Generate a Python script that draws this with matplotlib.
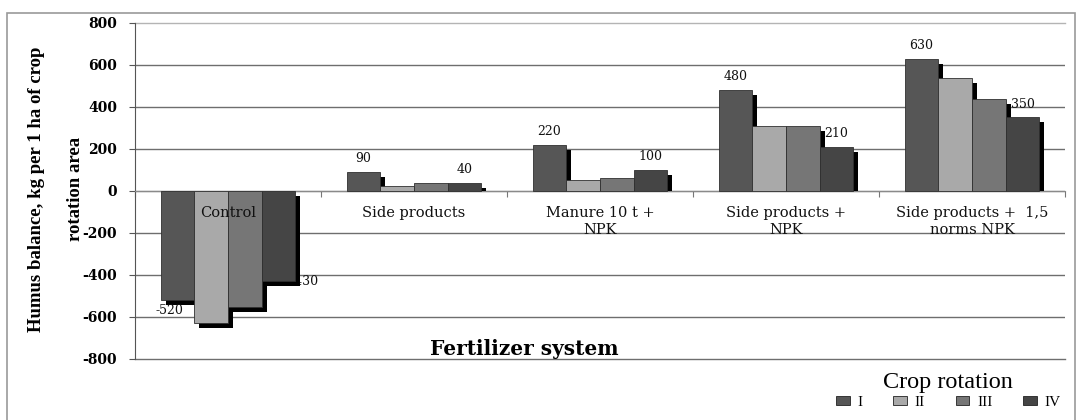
import matplotlib
matplotlib.use("Agg")

import matplotlib.pyplot as plt
from matplotlib.patches import Patch, Rectangle
import numpy as np


categories = [
    "Control",
    "Side products",
    "Manure 10 t +\nNPK",
    "Side products +\nNPK",
    "Side products +  1,5\nnorms NPK",
]
series_names = ["I", "II", "III", "IV"]
values_I = [-520, 90, 220, 480, 630]
values_II = [-630, 25, 50, 310, 540]
values_III = [-550, 40, 60, 310, 440]
values_IV = [-430, 40, 100, 210, 350]
y_ticks = [-800, -600, -400, -200, 0, 200, 400, 600, 800]

COLORS = ["#565656", "#a9a9a9", "#767676", "#454545"]
SERIF = "DejaVu Serif"

W, H = 1081, 420
fig = plt.figure(figsize=(W / 100, H / 100), dpi=100)
ax = fig.add_axes([135 / W, 1 - 359 / H, 930 / W, 336 / H])

x = np.arange(len(categories))
width = 0.181
# drop shadow offset, in data units (about 5 px right and 5 px down)
sdx = 5 / 186
sdy = 5 / 42 * 200

all_series = [values_I, values_II, values_III, values_IV]
for i, vals in enumerate(all_series):
    vals = np.array(vals, dtype=float)
    xpos = x + (i - 1.5) * width
    top = np.where(vals >= 0, np.maximum(vals - sdy, 0), vals - sdy)
    bottom = np.where(vals >= 0, 0, -sdy)
    ax.bar(xpos + sdx, top - bottom, width, bottom=bottom, color="black",
           linewidth=0, zorder=3 + 2 * i)
    ax.bar(xpos, vals, width, color=COLORS[i], edgecolor="#303030",
           linewidth=0.6, label=series_names[i], zorder=4 + 2 * i)

# value labels only for first and last series
label_font = dict(family=SERIF, fontsize=9, color="#111111")
for j, v in enumerate(values_I):
    xc = x[j] - 1.5 * width
    if v >= 0:
        ax.annotate(str(v), (xc, v), xytext=(0, 5), textcoords="offset points",
                    ha="center", va="bottom", zorder=20, **label_font)
    else:
        ax.annotate(str(v), (xc, v), xytext=(-6, -3), textcoords="offset points",
                    ha="center", va="top", zorder=20, **label_font)
for j, v in enumerate(values_IV):
    xc = x[j] + 1.5 * width
    if v >= 0:
        ax.annotate(str(v), (xc, v), xytext=(0, 5), textcoords="offset points",
                    ha="center", va="bottom", zorder=20, **label_font)
    else:
        ax.annotate(str(v), (xc, v), xytext=(19, 0), textcoords="offset points",
                    ha="center", va="center", zorder=2, **label_font)

# category labels sit just under the zero line
for j, name in enumerate(categories):
    ax.annotate(name, (x[j], 0), xytext=(0, -11), textcoords="offset points",
                ha="center", va="top", family=SERIF, fontsize=10.5,
                linespacing=1.25, zorder=21, color="#111111")

ax.set_xlim(-0.5, len(categories) - 0.5)
ax.set_ylim(-800, 800)
ax.set_yticks(y_ticks)
ax.set_yticklabels([str(t) for t in y_ticks], family=SERIF, fontweight="bold", fontsize=10)
ax.tick_params(axis="y", length=4, pad=9, color="#555555")

ax.set_xticks(np.arange(len(categories) + 1) - 0.5)
ax.set_xticklabels([])
ax.tick_params(axis="x", length=4, color="#777777", direction="out")

ax.spines["bottom"].set_position(("data", 0))
ax.spines["bottom"].set_color("#8a8a8a")
ax.spines["left"].set_color("#555555")
ax.spines["top"].set_visible(False)
ax.spines["right"].set_visible(False)

ax.yaxis.grid(True, color="#6e6e6e", linewidth=1.0, zorder=0)
ax.set_axisbelow(True)
grid = ax.yaxis.get_gridlines()
grid[-1].set_color("#b4b4b4")
grid[0].set_clip_on(False)
grid[-1].set_clip_on(False)

fig.text(524 / W, 1 - 349 / H, "Fertilizer system", ha="center", va="center",
         family=SERIF, fontweight="bold", fontsize=14.5)

fig.text(37 / W, 1 - 189 / H, "Humus balance, kg per 1 ha of crop", rotation=90,
         ha="center", va="center", family="Liberation Serif", fontweight="bold", fontsize=13.5)
fig.text(75 / W, 1 - 189 / H, "rotation area", rotation=90,
         ha="center", va="center", family="Liberation Serif", fontweight="bold", fontsize=13.5)

handles = [Patch(facecolor=c, edgecolor="#222222", linewidth=0.6) for c in COLORS]
fig.legend(handles, series_names, ncol=4, title="Crop rotation", frameon=False,
           loc="upper right", bbox_to_anchor=(1068 / W, 1 - 364 / H),
           prop=dict(family="Liberation Serif", size=11),
           title_fontproperties=dict(family="Liberation Serif", size=17.5),
           handlelength=0.9, handleheight=0.5, handletextpad=0.5,
           columnspacing=2.0, borderpad=0.0, labelspacing=0.2)

fig.patches.append(Rectangle((7 / W, -0.05), (1075 - 7) / W, 1.05 - 13 / H,
                             transform=fig.transFigure, fill=False,
                             edgecolor="#9a9a9a", linewidth=1.2))

fig.savefig("out.png", dpi=100)
